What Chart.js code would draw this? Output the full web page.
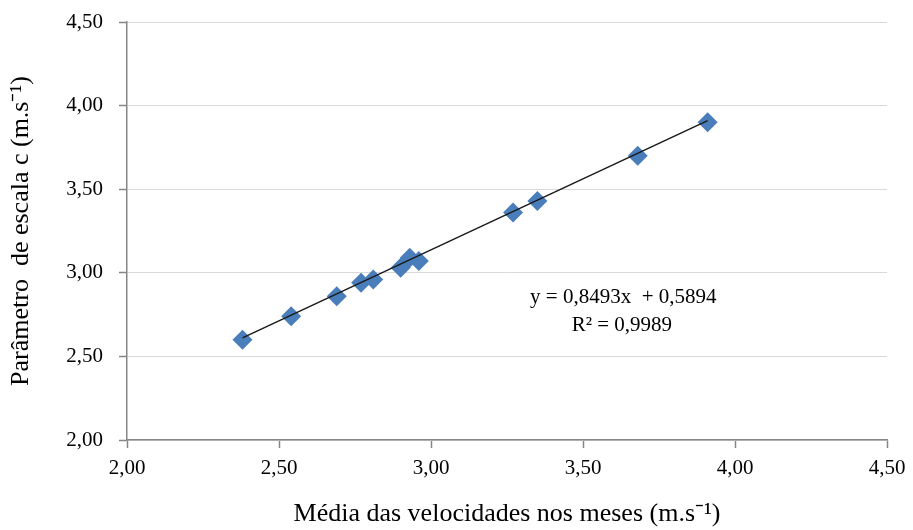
<!DOCTYPE html>
<html>
<head>
<meta charset="utf-8">
<script src="https://cdn.jsdelivr.net/npm/chart.js@4.4.0/dist/chart.umd.min.js"></script>
<style>
  html, body { margin: 0; padding: 0; background: #fff; }
  #wrap { width: 913px; height: 530px; }
</style>
</head>
<body>
<div id="wrap"><canvas id="chartWeibull" width="913" height="530"></canvas></div>
<script>
// media mensal da velocidade (x) e parametro de escala c (y)
var mediaVel = [2.38, 2.54, 2.69, 2.77, 2.81, 2.90, 2.93, 2.96, 3.27, 3.35, 3.68, 3.91];
var paramC   = [2.60, 2.74, 2.86, 2.94, 2.96, 3.03, 3.09, 3.07, 3.36, 3.43, 3.70, 3.90];
var eixoTicks = [2.0, 2.5, 3.0, 3.5, 4.0, 4.5];

// linha de tendencia (regressao linear)
var inclinacao = 0.8493;
var intercepto = 0.5894;
var eqTexto = 'y = 0,8493x  + 0,5894';
var r2Texto = 'R² = 0,9989';

var pontos = mediaVel.map(function (v, i) { return { x: v, y: paramC[i] }; });
var xMin = Math.min.apply(null, mediaVel);
var xMax = Math.max.apply(null, mediaVel);
var tendencia = [
    { x: xMin, y: inclinacao * xMin + intercepto },
    { x: xMax, y: inclinacao * xMax + intercepto }
];

function virgula(v) { return v.toFixed(2).replace('.', ','); }

var serif = "'Liberation Serif', 'Times New Roman', serif";

var equacao = {
    id: 'equacao',
    afterDatasetsDraw: function (chart) {
        var ctx = chart.ctx;
        var sx = chart.scales.x, sy = chart.scales.y;
        ctx.save();
        ctx.fillStyle = '#000';
        ctx.font = '21px ' + serif;
        ctx.textBaseline = 'middle';
        ctx.textAlign = 'left';
        ctx.fillText(eqTexto, sx.getPixelForValue(3.326), sy.getPixelForValue(2.85));
        ctx.textAlign = 'center';
        ctx.fillText(r2Texto, sx.getPixelForValue(3.628), sy.getPixelForValue(2.682));
        ctx.restore();
    }
};

var ctx = document.getElementById('chartWeibull').getContext('2d');
var chart = new Chart(ctx, {
    type: 'scatter',
    data: {
        datasets: [{
            label: 'Linear',
            type: 'line',
            data: tendencia,
            borderColor: '#1a1a1a',
            borderWidth: 1.5,
            pointRadius: 0,
            fill: false
        }, {
            label: 'Parâmetro c',
            data: pontos,
            pointStyle: 'rectRot',
            pointRadius: 10,
            pointHoverRadius: 10,
            backgroundColor: '#4a7ebb',
            borderColor: '#4a7ebb',
            borderWidth: 0
        }]
    },
    plugins: [equacao],
    options: {
        responsive: false,
        animation: false,
        layout: { padding: { top: 22, right: 26, left: 0, bottom: 0 } },
        plugins: {
            legend: { display: false },
            tooltip: { enabled: false }
        },
        scales: {
            x: {
                type: 'linear',
                min: 2, max: 4.5,
                afterBuildTicks: function (s) { s.ticks = eixoTicks.map(function (v) { return { value: v }; }); },
                afterFit: function (s) { s.height = 90; s.paddingLeft = 0; s.paddingRight = 0; },
                border: { color: '#868686', width: 1.5 },
                grid: { drawOnChartArea: false, tickLength: 8, tickColor: '#868686', tickWidth: 1.5 },
                ticks: {
                    padding: 8,
                    color: '#000',
                    font: { family: serif, size: 21 },
                    callback: function (v) { return virgula(v); }
                },
                title: {
                    display: true,
                    text: 'Média das velocidades nos meses (m.s⁻¹)',
                    color: '#000',
                    font: { family: serif, size: 26 },
                    padding: { top: 0, bottom: 0 }
                }
            },
            y: {
                type: 'linear',
                min: 2, max: 4.5,
                afterBuildTicks: function (s) { s.ticks = eixoTicks.map(function (v) { return { value: v }; }); },
                afterFit: function (s) { s.width = 127; s.paddingTop = 0; s.paddingBottom = 0; },
                border: { color: '#868686', width: 1.5 },
                grid: { color: '#d9d9d9', lineWidth: 1, tickLength: 8, tickColor: '#868686', tickWidth: 1.5 },
                ticks: {
                    padding: 16,
                    color: '#000',
                    font: { family: serif, size: 21 },
                    callback: function (v) { return virgula(v); }
                },
                title: {
                    display: true,
                    text: 'Parâmetro  de escala c (m.s⁻¹)',
                    color: '#000',
                    font: { family: serif, size: 26 },
                    padding: { top: 6, bottom: 0 }
                }
            }
        }
    }
});
</script>
</body>
</html>
